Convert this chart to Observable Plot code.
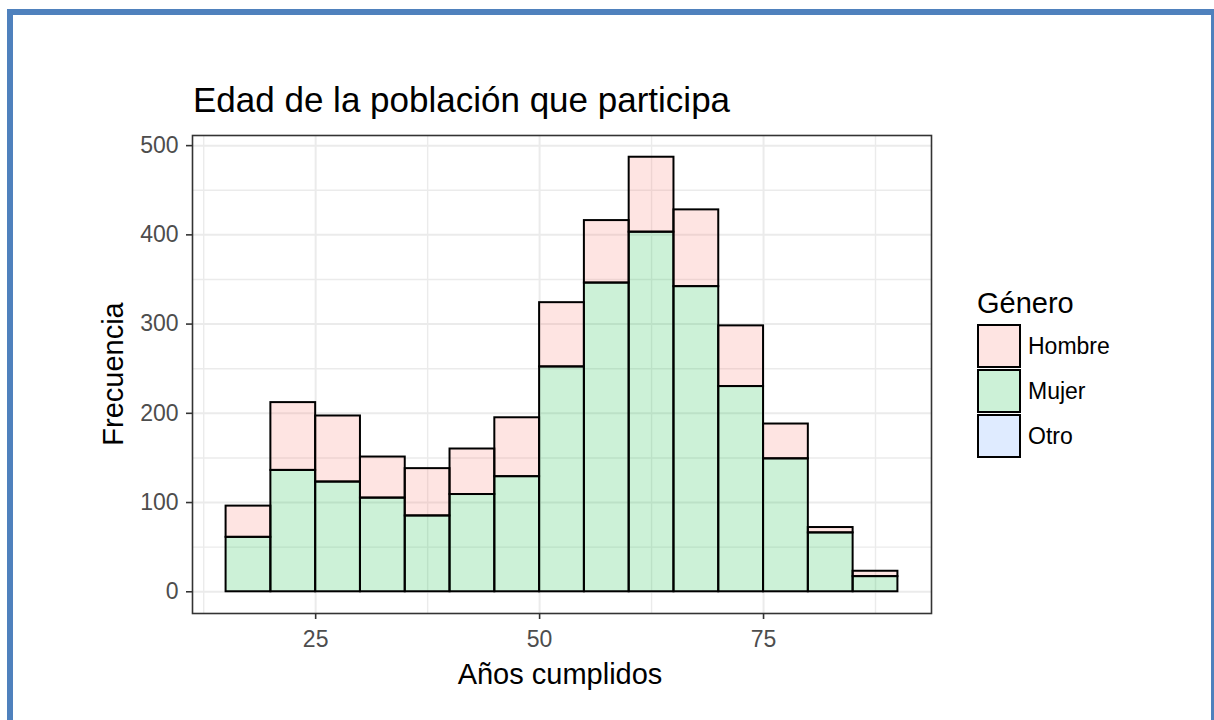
<!DOCTYPE html>
<html><head><meta charset="utf-8">
<script src="https://cdn.jsdelivr.net/npm/d3@7"></script>
<script src="https://cdn.jsdelivr.net/npm/@observablehq/plot@0.6"></script>
<style>body{margin:0;background:#fff;} svg{display:block;}</style>
</head><body><div id="chart"></div>
<script>
// Data (5-year bins of age)
const binStart = [15, 20, 25, 30, 35, 40, 45, 50, 55, 60, 65, 70, 75, 80, 85];
const binWidth = 5;
const mujer  = [61, 136, 123, 105, 85, 109, 129, 252, 346, 403, 342, 230, 149, 66, 17];
const hombre = [35, 76, 74, 46, 53, 51, 66, 72, 70, 84, 86, 68, 39, 6, 6];
const generos = ["Hombre", "Mujer", "Otro"];
const generoColors = ["#F8766D", "#00BA38", "#619CFF"];
const xTicks = [25, 50, 75];
const xMinor = [12.5, 37.5, 62.5, 87.5];
const yTicks = [0, 100, 200, 300, 400, 500];
const yMinor = [50, 150, 250, 350, 450];
const title = "Edad de la población que participa";
const xLabel = "Años cumplidos";
const yLabel = "Frecuencia";
const legendTitle = "Género";

const rows = [];
binStart.forEach((b, i) => {
  rows.push({x1: b, x2: b + binWidth, genero: "Mujer", n: mujer[i]});
  rows.push({x1: b, x2: b + binWidth, genero: "Hombre", n: hombre[i]});
});

const gridColor = "#ebebeb";
const svg = Plot.plot({
  width: 1214,
  height: 720,
  marginLeft: 192,
  marginRight: 283,
  marginTop: 135,
  marginBottom: 107,
  style: {fontFamily: "'Liberation Sans', Arial, sans-serif", fontSize: "23px", background: "white", overflow: "visible"},
  x: {domain: [11.25, 93.75]},
  y: {domain: [-24.35, 511.35]},
  color: {domain: generos, range: generoColors},
  marks: [
    Plot.ruleX(xMinor, {stroke: gridColor, strokeWidth: 1.4}),
    Plot.ruleY(yMinor, {stroke: gridColor, strokeWidth: 1.4}),
    Plot.ruleX(xTicks, {stroke: gridColor, strokeWidth: 2}),
    Plot.ruleY(yTicks, {stroke: gridColor, strokeWidth: 2}),
    Plot.rectY(rows, Plot.stackY({
      x1: "x1", x2: "x2", y: "n", fill: "genero",
      order: ["Mujer", "Hombre"],
      fillOpacity: 0.2, stroke: "black", strokeWidth: 2
    })),
    Plot.frame({stroke: "#333333", strokeWidth: 1.6}),
    Plot.axisX({ticks: xTicks, tickSize: 6, tickPadding: 11, fontSize: 23, fill: "#4d4d4d", stroke: "#333333", strokeWidth: 1.6, label: null}),
    Plot.axisY({ticks: yTicks, tickSize: 6, tickPadding: 8, fontSize: 23, fill: "#4d4d4d", stroke: "#333333", strokeWidth: 1.6, label: null})
  ]
});

const s = d3.select(svg);
// Title
s.append("text").attr("x", 193).attr("y", 112).attr("text-anchor", "start").attr("font-size", 35).attr("fill", "black").text(title);
// Axis titles
s.append("text").attr("x", 560).attr("y", 684).attr("text-anchor", "middle").attr("font-size", 29).attr("fill", "black").text(xLabel);
s.append("text").attr("transform", "translate(123,374) rotate(-90)").attr("text-anchor", "middle").attr("font-size", 29).attr("fill", "black").text(yLabel);
// Legend
const color = svg.scale("color");
const lg = s.append("g").attr("text-anchor", "start");
lg.append("text").attr("x", 977).attr("y", 313).attr("font-size", 29).attr("fill", "black").text(legendTitle);
color.domain.forEach((g, i) => {
  const y0 = 325 + i * 45;
  lg.append("rect").attr("x", 978).attr("y", y0).attr("width", 42).attr("height", 42).attr("fill", "white");
  lg.append("rect").attr("x", 978).attr("y", y0).attr("width", 42).attr("height", 42)
    .attr("fill", color.range[i]).attr("fill-opacity", 0.2).attr("stroke", "black").attr("stroke-width", 2);
  lg.append("text").attr("x", 1028).attr("y", y0 + 21).attr("dy", "0.35em").attr("font-size", 23).attr("fill", "black").text(g);
});
// Blue page border
const border = "#4f81bd";
s.append("rect").attr("x", 7).attr("y", 9).attr("width", 1207).attr("height", 6).attr("fill", border);
s.append("rect").attr("x", 7).attr("y", 9).attr("width", 6).attr("height", 711).attr("fill", border);
s.append("rect").attr("x", 1211).attr("y", 9).attr("width", 6).attr("height", 711).attr("fill", border);

document.getElementById("chart").appendChild(svg);
</script>
</body></html>
